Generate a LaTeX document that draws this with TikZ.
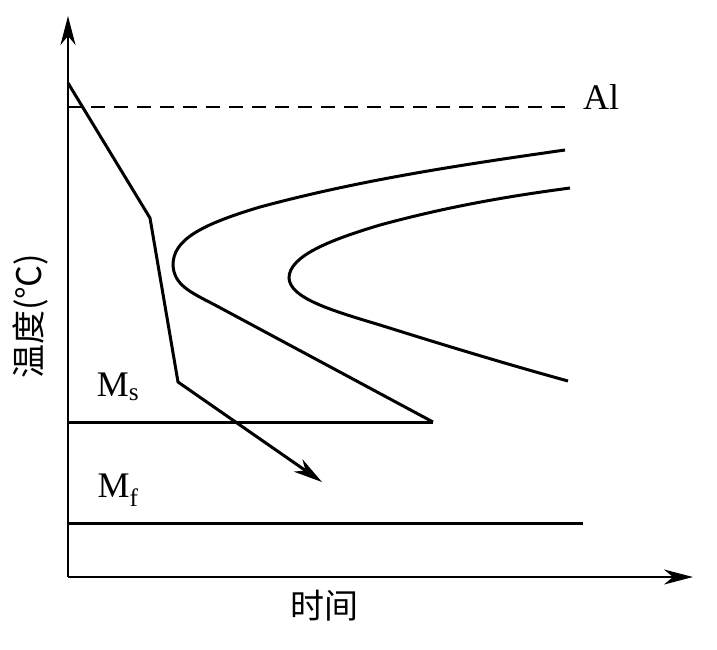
\documentclass[tikz,border=0pt]{standalone}
\usepackage{fontspec}
\setmainfont{Liberation Serif}
\newfontfamily\cjkfont{Noto Sans CJK SC}
\usetikzlibrary{arrows.meta}

\begin{document}
\begin{tikzpicture}[
  x=1pt, y=-1pt,
  >={Stealth[length=29pt, width=15pt, inset=9pt]},
  axis/.style={->, line width=1.8pt},
  curve/.style={line width=3pt},
  guide/.style={line width=1.4pt, dash pattern=on 14pt off 9pt},
  lbl/.style={inner sep=0pt, font=\fontsize{36}{40}\selectfont},
  cjk/.style={inner sep=0pt, font=\fontsize{34}{38}\selectfont\cjkfont}
]
\useasboundingbox[fill=white] (0,0) rectangle (717,649);

% axes
\coordinate (origin) at (68,577);
\coordinate (ytop) at (68,16);
\coordinate (xend) at (693,577);
\draw[axis] (origin) -- (ytop);
\draw[axis] (origin) -- (xend);
\node[cjk, rotate=90] (ylabel) at (30,316) {温度(℃)};
\node[cjk] (xlabel) at (324,606) {时间};

% A1 line
\coordinate (a1start) at (68,107);
\coordinate (a1end) at (574,107);
\draw[guide] (a1start) -- (a1end);
\node[lbl, anchor=west] (a1) at (583,97) {Al};

% Ms and Mf
\coordinate (msstart) at (68,422);
\coordinate (msend) at (433,422);
\coordinate (mfstart) at (68,523);
\coordinate (mfend) at (583,523);
\draw[curve] (msstart) -- (msend);
\draw[curve] (mfstart) -- (mfend);
\node[lbl] (ms) at (118,387) {M\textsubscript{s}};
\node[lbl] (mf) at (118,490) {M\textsubscript{f}};

% start of transformation
\draw[curve] (565,150) .. controls (460,165) and (360,180) .. (260,207)
  .. controls (200,225) and (173,240) .. (173,265)
  .. controls (174,285) and (190,292) .. (215,305) -- (msend);

% end of transformation
\draw[curve] (570,188) .. controls (510,196) and (450,206) .. (380,225)
  .. controls (330,240) and (289,256) .. (289,278)
  .. controls (290,298) and (330,310) .. (380,325)
  .. controls (450,347) and (510,365) .. (568,381);

% cooling path
\coordinate (c0) at (68,83);
\coordinate (c1) at (150,218);
\coordinate (c2) at (178,382);
\coordinate (c3) at (322,482);
\draw[curve, ->] (c0) -- (c1) -- (c2) -- (c3);

\end{tikzpicture}
\end{document}
